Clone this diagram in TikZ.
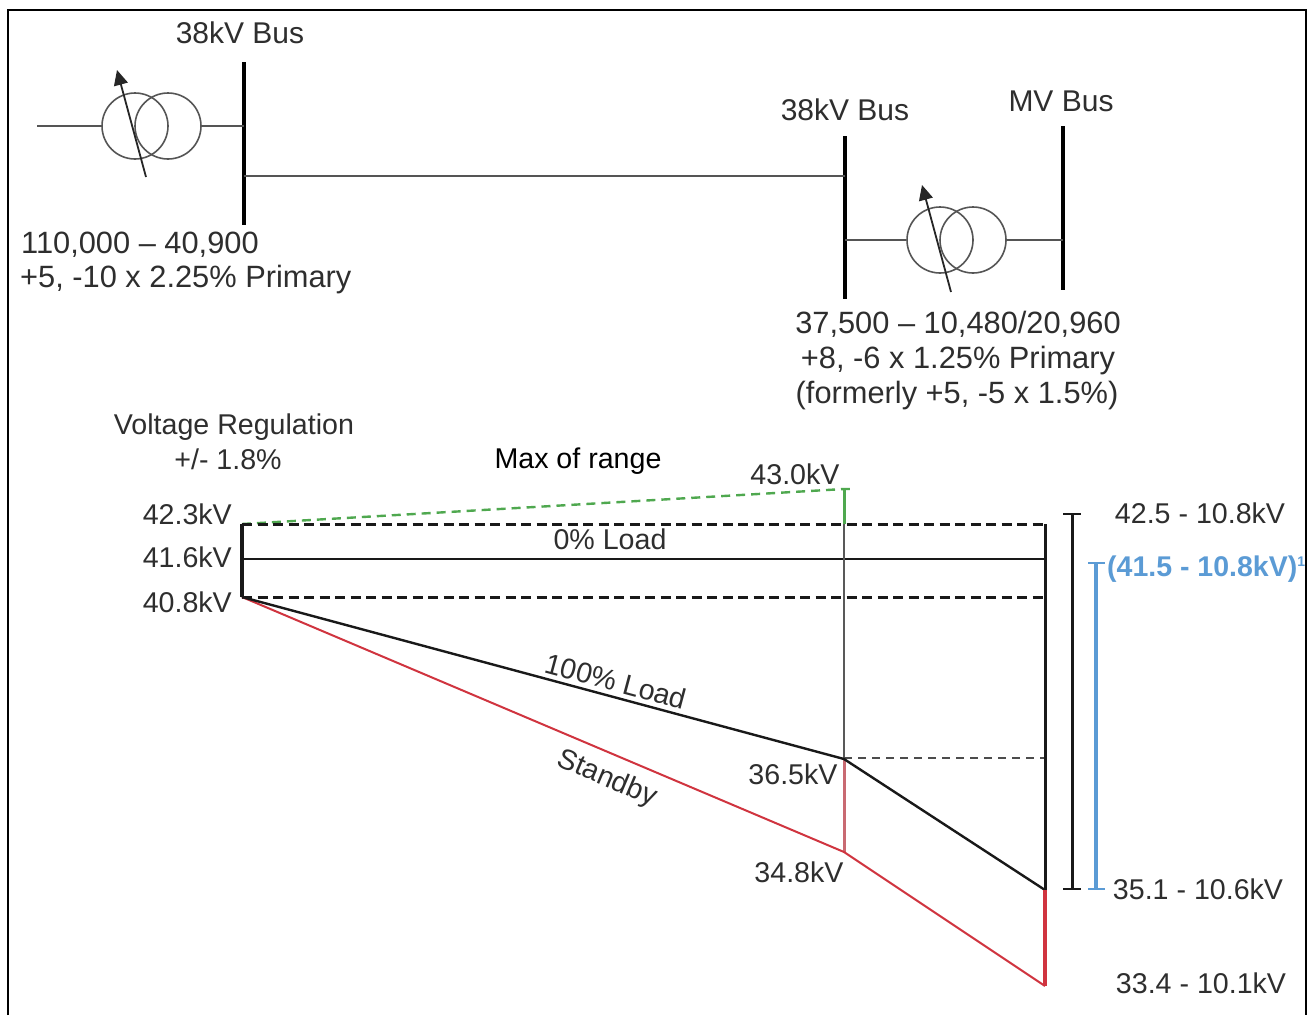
\documentclass[tikz,border=0pt]{standalone}
\usepackage{fontspec}
\setmainfont{Liberation Sans}
\definecolor{txt}{HTML}{2E2E2E}
\definecolor{wire}{HTML}{555555}
\definecolor{grn}{HTML}{4FA84F}
\definecolor{redl}{HTML}{D0343F}
\definecolor{redv}{HTML}{C96A72}
\definecolor{blu}{HTML}{5B9BD5}
\usetikzlibrary{arrows.meta}
\tikzset{
 x=1pt,y=-1pt,
 lab/.style={inner sep=0pt,text=txt,font=\fontsize{28.6}{34}\selectfont},
 bus/.style={lab,font=\fontsize{30}{34}\selectfont},
 big/.style={lab,font=\fontsize{30.8}{36}\selectfont},
 busbar/.style={line width=4.6pt,black},
 wireline/.style={line width=1.8pt,wire},
 coil/.style={line width=1.6pt,wire,circle,minimum size=66pt,inner sep=0pt,draw},
 tapline/.style={line width=1.8pt,black!85,-{Triangle[length=15pt,width=14pt]}},
 level/.style={line width=2.8pt,black!90},
 slant/.style={line width=2.4pt,black!90},
 dashlevel/.style={line width=3pt,black!90,dash pattern=on 10pt off 5.5pt},
 thinlevel/.style={line width=2pt,black!70,dash pattern=on 8pt off 6pt},
 redline/.style={line width=2pt,redl},
 grnline/.style={line width=2.4pt,grn,dash pattern=on 9pt off 6pt},
}
\begin{document}
\begin{tikzpicture}
\useasboundingbox (0,0) rectangle (1313,1015);
\fill[white] (0,0) rectangle (1313,1015);
\coordinate (frTL) at (8,10);
\coordinate (frTR) at (1306,10);
\coordinate (frBL) at (8,1015);
\coordinate (frBR) at (1306,1015);
\draw[line width=2pt,black] (frBL) -- (frTL) -- (frTR) -- (frBR);

% buses
\coordinate (b1t) at (244,62); \coordinate (b1b) at (244,225);
\coordinate (b2t) at (845,136); \coordinate (b2b) at (845,299);
\coordinate (b3t) at (1063,126); \coordinate (b3b) at (1063,290);
\draw[busbar] (b1t) -- (b1b);
\draw[busbar] (b2t) -- (b2b);
\draw[busbar] (b3t) -- (b3b);

% transformer 1
\node[coil] (t1a) at (135,126) {};
\node[coil] (t1b) at (168,126) {};
\coordinate (in1) at (37,126);
\coordinate (b1w) at (244,126);
\draw[wireline] (in1) -- (t1a.west);
\draw[wireline] (t1b.east) -- (b1w);
\coordinate (tap1s) at (146,177); \coordinate (tap1e) at (117,70);
\draw[tapline] (tap1s) -- (tap1e);

% line between 38kV buses
\coordinate (l1) at (244,176); \coordinate (l2) at (845,176);
\draw[wireline] (l1) -- (l2);

% transformer 2
\node[coil] (t2a) at (940,240) {};
\node[coil] (t2b) at (973,240) {};
\coordinate (b2w) at (845,240); \coordinate (b3w) at (1063,240);
\draw[wireline] (b2w) -- (t2a.west);
\draw[wireline] (t2b.east) -- (b3w);
\coordinate (tap2s) at (951,292); \coordinate (tap2e) at (922,185);
\draw[tapline] (tap2s) -- (tap2e);

% profile points
\coordinate (LT) at (242,524); \coordinate (LM) at (242,559); \coordinate (LB) at (242,597);
\coordinate (MG) at (844,489); \coordinate (MGr) at (851,489);
\coordinate (MT) at (844,524); \coordinate (M100) at (844,759); \coordinate (MSb) at (844,852);
\coordinate (RT) at (1045,524); \coordinate (RM) at (1045,559); \coordinate (RB) at (1045,597);
\coordinate (R100t) at (1045,758); \coordinate (M100t) at (844,758); \coordinate (R100) at (1045,890); \coordinate (RSb) at (1045,986);

\draw[grnline] (LT) -- (MG) -- (MGr);
\draw[line width=3pt,grn] (MG) -- (MT);
\draw[dashlevel] (LT) -- (RT);
\draw[level] (LM) -- (RM);
\draw[dashlevel] (LB) -- (RB);
\draw[line width=3.4pt,black!90] (LT) -- (LB);
\draw[line width=2pt,black!65] (MT) -- (M100);
\draw[thinlevel] (M100t) -- (R100t);
\draw[line width=3pt,redv] (M100) -- (MSb);
\draw[redline,line join=round] (LB) -- (MSb) -- (RSb);
\draw[slant,line join=round] (LB) -- (M100) -- (R100);
\draw[line width=3pt,black!90] (RT) -- (R100);
\draw[line width=3.4pt,redl] (R100) -- (RSb);

% range bars
\coordinate (kt) at (1072,514); \coordinate (kb) at (1072,889);
\coordinate (ktl) at (1063,514); \coordinate (ktr) at (1081,514);
\coordinate (kbl) at (1063,889); \coordinate (kbr) at (1081,889);
\draw[line width=3pt,black!90] (kt) -- (kb);
\draw[line width=2pt,black!90] (ktl) -- (ktr);
\draw[line width=2pt,black!90] (kbl) -- (kbr);
\coordinate (ct) at (1096,563); \coordinate (cb) at (1096,889);
\coordinate (ctl) at (1088,563); \coordinate (ctr) at (1105,563);
\coordinate (cbl) at (1088,889); \coordinate (cbr) at (1105,889);
\draw[line width=4pt,blu] (ct) -- (cb);
\draw[line width=2pt,blu] (ctl) -- (ctr);
\draw[line width=2pt,blu] (cbl) -- (cbr);

% labels
\node[bus] (tb1) at (240,33) {38kV Bus};
\node[bus] (tb2) at (845,110) {38kV Bus};
\node[bus] (tb3) at (1061,101) {MV Bus};
\node[big,anchor=west] (r1a) at (21,245) {110,000 – 40,900};
\node[big,anchor=west] (r1b) at (20,280) {+5, -10 x 2.25\% Primary};
\node[big] (r2a) at (958,324) {37,500 – 10,480/20,960};
\node[big] (r2b) at (958,361) {+8, -6 x 1.25\% Primary};
\node[big] (r2c) at (957,396) {(formerly +5, -5 x 1.5\%)};
\node[lab] (vr1) at (234,427) {Voltage Regulation};
\node[lab] (vr2) at (228,459) {+/- 1.8\%};
\node[lab,text=black] (mx) at (578,461) {Max of range};
\node[lab] (v43) at (795,474) {43.0kV};
\node[lab,anchor=east] (v423) at (232,514) {42.3kV};
\node[lab,anchor=east] (v416) at (232,557) {41.6kV};
\node[lab,anchor=east] (v408) at (232,602) {40.8kV};
\node[lab] (l0) at (610,539) {0\% Load};
\node[lab,rotate=-15] (l100) at (616,681) {100\% Load};
\node[lab,rotate=-23] (lsb) at (607,779) {Standby};
\node[lab] (v365) at (793,774) {36.5kV};
\node[lab] (v348) at (799,872) {34.8kV};
\node[lab] (r425) at (1200,513) {42.5 - 10.8kV};
\node[lab,anchor=base west,text=blu,font=\fontsize{28.5}{32}\selectfont\bfseries] (r415) at (1107,576) {(41.5 - 10.8kV)\raisebox{10pt}{\fontsize{14}{14}\selectfont 1}};
\node[lab] (r351) at (1198,889) {35.1 - 10.6kV};
\node[lab] (r334) at (1201,983) {33.4 - 10.1kV};
\end{tikzpicture}
\end{document}
